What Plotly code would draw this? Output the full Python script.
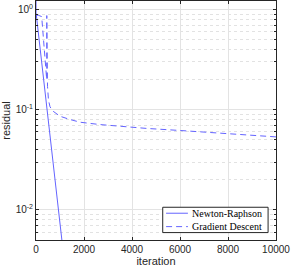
import plotly.graph_objects as go

# ---- data ----
nr_iter = [0, 2, 1100]
nr_res = [3.0, 0.93, 0.0045]

gd_iter = [0, 100, 237, 300, 360, 410, 446, 449, 455, 465, 480, 520, 583, 700,
           1000, 1400, 1833, 2667, 3500, 4611, 6000, 7111, 8500, 10000]
gd_res = [0.88, 0.875, 0.85, 0.55, 0.36, 0.25, 0.20, 0.87, 0.6, 0.3, 0.17, 0.125,
          0.107, 0.097, 0.086, 0.080, 0.075, 0.071, 0.068, 0.065, 0.062, 0.0597,
          0.057, 0.0535]

x_ticks = [0, 2000, 4000, 6000, 8000, 10000]
x_tick_text = ["0", "2000", "4000", "6000", "8000", "10000"]
y_ticks = [0.01, 0.1, 1]
y_tick_text = ["10<sup>-2</sup>", "10<sup>-1</sup>", "10<sup>0</sup>"]

names = ["Newton-Raphson", "Gradient Descent"]
dashes = ["solid", "6px,4px"]

line_color = "#6464ff"
axis_color = "#262626"
grid_color = "#e3e3e3"

fig = go.Figure()
fig.add_trace(go.Scatter(x=nr_iter, y=nr_res, mode="lines", name=names[0],
                         line=dict(color=line_color, width=1, dash=dashes[0])))
fig.add_trace(go.Scatter(x=gd_iter, y=gd_res, mode="lines", name=names[1],
                         line=dict(color=line_color, width=1, dash=dashes[1])))

tick_font = dict(family="Liberation Sans, Arial, sans-serif", size=10, color=axis_color)
title_font = dict(family="Liberation Sans, Arial, sans-serif", size=11, color=axis_color)
legend_font = dict(family="Liberation Serif, Times New Roman, serif", size=10, color="black")

# ---- manual legend (MATLAB-style compact box) ----
box = dict(x0=0.528, x1=0.967, y0=0.031, y1=0.137)
rows_y = [0.112, 0.056]
fig.add_shape(type="rect", xref="paper", yref="paper", **box,
              line=dict(color=axis_color, width=1), fillcolor="white", layer="above")
for name, dash, yy in zip(names, dashes, rows_y):
    fig.add_shape(type="line", xref="paper", yref="paper",
                  x0=0.542, x1=0.633, y0=yy, y1=yy, layer="above",
                  line=dict(color=line_color, width=1, dash=dash))
    fig.add_annotation(xref="paper", yref="paper", x=0.642, y=yy, text=name,
                       showarrow=False, xanchor="left", yanchor="middle",
                       font=legend_font)

fig.update_layout(
    width=291, height=269,
    margin=dict(l=36, r=15, t=1, b=29, autoexpand=False),
    paper_bgcolor="white", plot_bgcolor="white",
    showlegend=False, hovermode=False,
    xaxis=dict(
        range=[0, 10000], tickvals=x_ticks, ticktext=x_tick_text,
        showgrid=True, gridcolor=grid_color, gridwidth=1,
        ticks="inside", ticklen=3, tickcolor=axis_color,
        showline=True, linecolor=axis_color, linewidth=1, mirror="allticks",
        zeroline=False,
        tickfont=tick_font,
        title=dict(text="iteration", font=title_font, standoff=2),
    ),
    yaxis=dict(
        type="log", range=[-2.301, 0.085],
        tickvals=y_ticks, ticktext=y_tick_text,
        showgrid=True, gridcolor=grid_color, gridwidth=1,
        ticks="inside", ticklen=3, tickcolor=axis_color,
        showline=True, linecolor=axis_color, linewidth=1, mirror="allticks",
        zeroline=False,
        tickfont=tick_font,
        title=dict(text="residual", font=title_font, standoff=4),
        minor=dict(showgrid=True, gridcolor="#e2e2e2", griddash="dot",
                   ticks="inside", ticklen=2, tickcolor=axis_color, dtick="D1"),
    ),
)

fig.write_html("out.html", config=dict(displayModeBar=False, staticPlot=True),
               post_script="document.body.style.margin='0px';document.body.style.overflow='hidden';")
